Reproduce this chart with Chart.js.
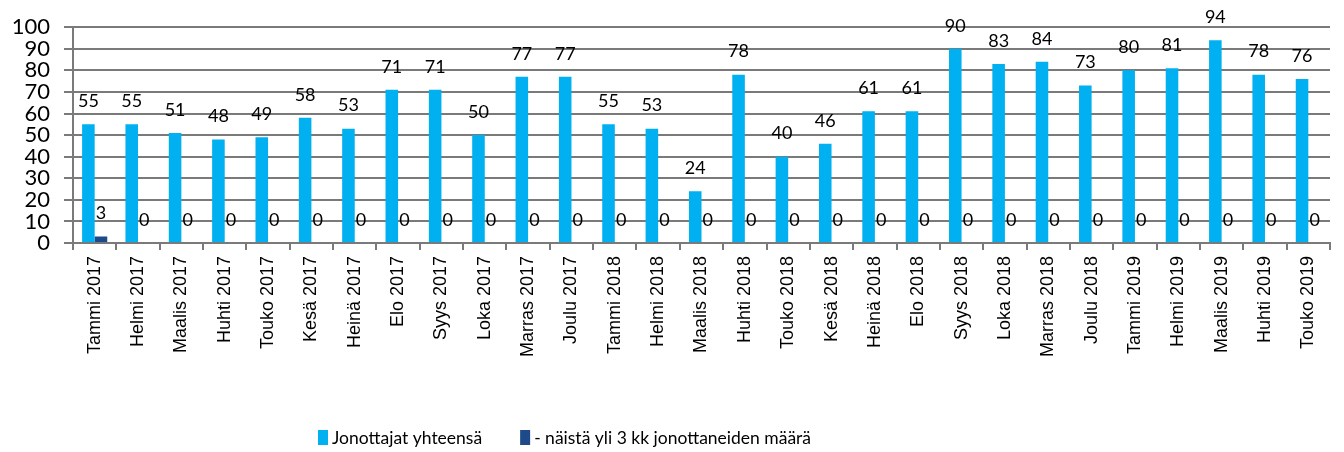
<!DOCTYPE html>
<html>
<head>
<meta charset="utf-8">
<script src="https://cdn.jsdelivr.net/npm/chart.js@4/dist/chart.umd.min.js"></script>
<style>
  html, body { margin: 0; padding: 0; background: #fff; }
  #wrap { width: 1344px; height: 452px; position: relative; }
</style>
</head>
<body>
<div id="wrap"><canvas id="chart-jonot"></canvas></div>
<script>
// kuukaudet
const months = [
    'Tammi 2017', 'Helmi 2017', 'Maalis 2017', 'Huhti 2017', 'Touko 2017', 'Kesä 2017',
    'Heinä 2017', 'Elo 2017', 'Syys 2017', 'Loka 2017', 'Marras 2017', 'Joulu 2017',
    'Tammi 2018', 'Helmi 2018', 'Maalis 2018', 'Huhti 2018', 'Touko 2018', 'Kesä 2018',
    'Heinä 2018', 'Elo 2018', 'Syys 2018', 'Loka 2018', 'Marras 2018', 'Joulu 2018',
    'Tammi 2019', 'Helmi 2019', 'Maalis 2019', 'Huhti 2019', 'Touko 2019'
];

// jonottajat yhteensä
const totalQueue = [
    55, 55, 51, 48, 49, 58, 53, 71, 71, 50, 77, 77,
    55, 53, 24, 78, 40, 46, 61, 61, 90, 83, 84, 73,
    80, 81, 94, 78, 76
];

// yli 3 kk jonottaneet
const over3Months = [
    3, 0, 0, 0, 0, 0, 0, 0, 0, 0, 0, 0,
    0, 0, 0, 0, 0, 0, 0, 0, 0, 0, 0, 0,
    0, 0, 0, 0, 0
];

// y-akseli 0..100, väli 10
const yMin = 0;
const yMax = 100;
const yStep = 10;

const numFont = 'Lato, "DejaVu Sans", sans-serif';
const gridGray = '#7a7a7a';

// arvot pylväiden yläpuolelle
const valueLabels = {
    id: 'valueLabels',
    afterDatasetsDraw(chart) {
        const ctx = chart.ctx;
        ctx.save();
        ctx.font = '18px ' + numFont;
        ctx.fillStyle = '#000';
        ctx.textAlign = 'center';
        ctx.textBaseline = 'middle';
        chart.data.datasets.forEach((ds, i) => {
            chart.getDatasetMeta(i).data.forEach((bar, j) => {
                ctx.fillText(String(ds.data[j]), bar.x, bar.y - 23);
            });
        });
        ctx.restore();
    }
};

// selite alareunaan
const bottomLegend = {
    id: 'bottomLegend',
    afterDraw(chart) {
        const ctx = chart.ctx;
        const y = 437;
        let x = 318;
        ctx.save();
        ctx.font = '17.5px ' + numFont;
        ctx.textBaseline = 'middle';
        chart.data.datasets.forEach(ds => {
            ctx.fillStyle = ds.backgroundColor;
            ctx.fillRect(x, y - 7, 10, 15);
            ctx.fillStyle = '#000';
            ctx.fillText(ds.label, x + 14, y + 1);
            x += 14 + ctx.measureText(ds.label).width + 38;
        });
        ctx.restore();
    }
};

new Chart(document.getElementById('chart-jonot'), {
    type: 'bar',
    data: {
        labels: months,
        datasets: [
            {
                label: 'Jonottajat yhteensä',
                data: totalQueue,
                backgroundColor: '#00B0F0',
                barPercentage: 1,
                categoryPercentage: 0.58
            },
            {
                label: '- näistä yli 3 kk jonottaneiden määrä',
                data: over3Months,
                backgroundColor: '#1F4A8A',
                barPercentage: 1,
                categoryPercentage: 0.58
            }
        ]
    },
    options: {
        responsive: true,
        maintainAspectRatio: false,
        animation: false,
        layout: { padding: { top: 20, right: 14, bottom: 59, left: 0 } },
        plugins: {
            legend: { display: false },
            tooltip: { enabled: false }
        },
        scales: {
            x: {
                afterFit(scale) { scale.height = 150; },
                border: { color: gridGray, width: 2 },
                grid: {
                    offset: true,
                    drawOnChartArea: false,
                    drawTicks: true,
                    tickLength: 7,
                    color: gridGray,
                    lineWidth: 2
                },
                ticks: {
                    autoSkip: false,
                    maxRotation: 90,
                    minRotation: 90,
                    padding: 6,
                    color: '#000',
                    font: { family: '"Liberation Sans", Arial, sans-serif', size: 18 }
                }
            },
            y: {
                min: yMin,
                max: yMax,
                afterFit(scale) { scale.width = 73; },
                border: { color: gridGray, width: 2 },
                grid: {
                    color: gridGray,
                    lineWidth: 2,
                    tickLength: 9
                },
                ticks: {
                    stepSize: yStep,
                    autoSkip: false,
                    padding: 14,
                    color: '#000',
                    font: { family: numFont, size: 22 }
                }
            }
        }
    },
    plugins: [valueLabels, bottomLegend]
});
</script>
</body>
</html>
